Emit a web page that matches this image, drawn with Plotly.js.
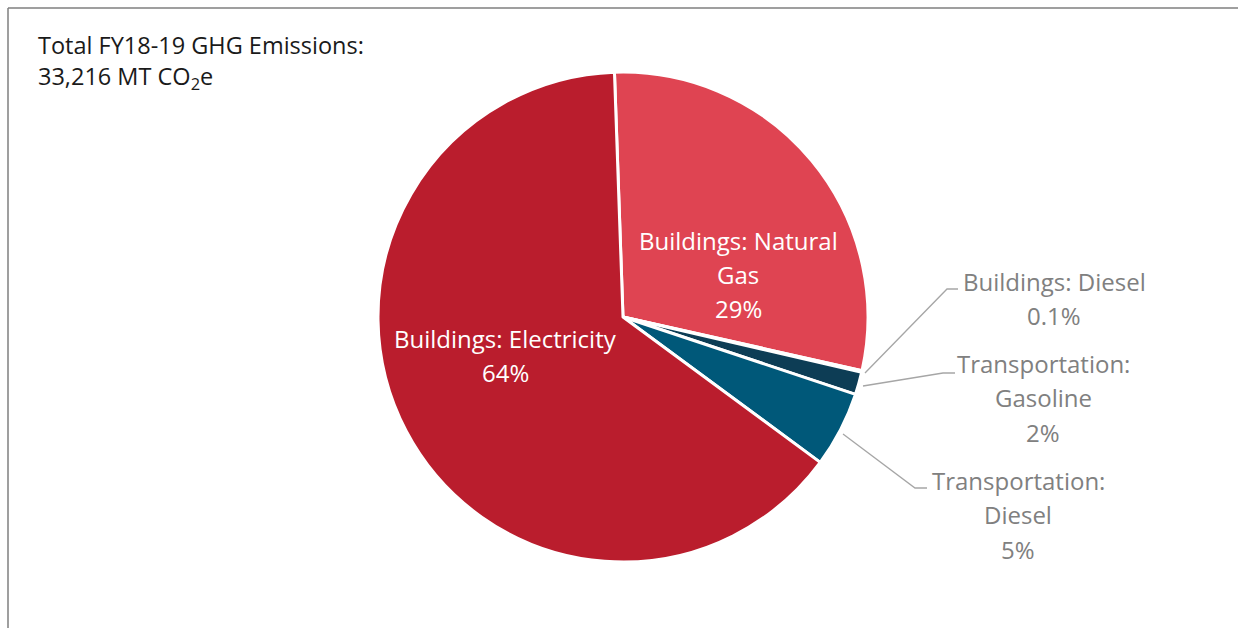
<!DOCTYPE html>
<html>
<head>
<meta charset="utf-8">
<script src="https://cdn.plot.ly/plotly-3.0.1.min.js"></script>
<style>
  html, body { margin: 0; padding: 0; background: #fff; }
  #chart { width: 1238px; height: 628px; }
</style>
</head>
<body>
<div id="chart"></div>
<script>
// ---- data ----
const categories = [
  "Buildings: Natural Gas",
  "Buildings: Diesel",
  "Transportation: Gasoline",
  "Transportation: Diesel",
  "Buildings: Electricity"
];
const shares = [29.1, 0.1, 1.5, 5.0, 64.4];           // % of total emissions
const pctLabels = ["29%", "0.1%", "2%", "5%", "64%"];
const labelLines = [
  ["Buildings: Natural", "Gas"],
  ["Buildings: Diesel"],
  ["Transportation:", "Gasoline"],
  ["Transportation:", "Diesel"],
  ["Buildings: Electricity"]
];
const titleLines = ["Total FY18-19 GHG Emissions:", "33,216 MT CO<sub>2</sub>e"];

// ---- style ----
const colors = ["#DF4452", "#1E4A5C", "#0D3D55", "#005879", "#BA1D2D"];
const W = 1238, H = 628;
const FONT = "Open Sans";
const fx = x => x / W;
const fy = y => 1 - y / H;

// Label layout (pixel positions of each label block: center x, first line y, inside?)
const labelPos = [
  {x: 738, y: 240, inside: true},
  {x: 1054, y: 281, inside: false},
  {x: 1043, y: 363, inside: false},
  {x: 1018, y: 480, inside: false},
  {x: 505, y: 338, inside: true}
];
const lineGap = 34.5;
// leader line paths (pixels): slice point -> elbow -> end
const leaders = [
  null,
  [[865, 373], [947, 289], [958, 289]],
  [[863, 386], [943, 373], [955, 373]],
  [[843, 434], [915, 488], [927, 488]],
  null
];

const annotations = [];
categories.forEach((c, i) => {
  const lines = labelLines[i].concat([pctLabels[i]]);
  const p = labelPos[i];
  lines.forEach((t, k) => {
    annotations.push({
      text: t, xref: "paper", yref: "paper",
      x: fx(p.x), y: fy(p.y + k * lineGap),
      xanchor: "center", yanchor: "middle", showarrow: false,
      font: {family: FONT, size: 24, color: p.inside ? "#FFFFFF" : "#808080"}
    });
  });
});
titleLines.forEach((t, k) => {
  annotations.push({
    text: t, xref: "paper", yref: "paper",
    x: fx(36), y: fy(45 + k * 33),
    xanchor: "left", yanchor: "middle", showarrow: false,
    font: {family: FONT, size: 23.5, color: "#1A1A1A"}
  });
});

const shapes = [];
leaders.forEach(l => {
  if (!l) return;
  const d = "M" + l.map(p => fx(p[0]) + "," + fy(p[1])).join(" L");
  shapes.push({type: "path", xref: "paper", yref: "paper", path: d,
    line: {color: "#A6A6A6", width: 1.3}});
});
// chart frame (top and left edges visible)
shapes.push({type: "line", xref: "paper", yref: "paper", x0: fx(8), x1: 1.01, y0: fy(8), y1: fy(8), line: {color: "#7F7F7F", width: 1.5}});
shapes.push({type: "line", xref: "paper", yref: "paper", x0: fx(8), x1: fx(8), y0: fy(8), y1: -0.01, line: {color: "#7F7F7F", width: 1.5}});

const cx = 623, cy = 317, R = 245;
const trace = {
  type: "pie",
  labels: categories,
  values: shares,
  sort: false,
  direction: "clockwise",
  rotation: -2,
  textinfo: "none",
  hoverinfo: "label+percent",
  marker: {colors: colors, line: {color: "#FFFFFF", width: 3}},
  domain: {x: [fx(cx - R), fx(cx + R)], y: [fy(cy + R), fy(cy - R)]},
  showlegend: false
};

Plotly.newPlot("chart", [trace], {
  width: W, height: H,
  margin: {l: 0, r: 0, t: 0, b: 0},
  paper_bgcolor: "#FFFFFF",
  showlegend: false,
  annotations: annotations,
  shapes: shapes
}, {displayModeBar: false, staticPlot: true});
</script>
</body>
</html>
